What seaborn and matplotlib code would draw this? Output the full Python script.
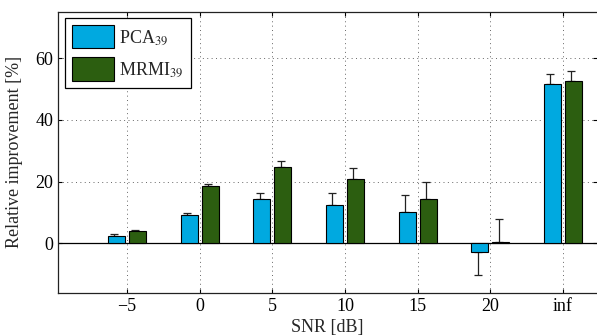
import numpy as np
import pandas as pd
import seaborn as sns
import matplotlib
matplotlib.use('Agg')
import matplotlib.pyplot as plt

# values
snr = ['\u22125', '0', '5', '10', '15', '20', 'inf']
pca = [2.5, 9.2, 14.3, 12.3, 10.1, -2.8, 51.6]
pca_err = [0.4, 0.7, 1.9, 3.9, 5.7, 7.5, 3.2]
mrmi = [4.0, 18.7, 24.6, 20.7, 14.5, 0.4, 52.5]
mrmi_err = [0.4, 0.7, 2.0, 3.6, 5.5, 7.4, 3.3]
methods = ['PCA$_{39}$', 'MRMI$_{39}$']
colors = ['#00A9E0', '#2C5E10']

sns.set_style('white')
plt.rcParams['font.family'] = ['Liberation Serif', 'DejaVu Serif']
plt.rcParams['mathtext.fontset'] = 'stix'

df = pd.DataFrame({
    'snr': snr * 2,
    'val': pca + mrmi,
    'method': [methods[0]] * len(snr) + [methods[1]] * len(snr),
})
errs = [pca_err, mrmi_err]

fig = plt.figure(figsize=(5.97, 3.36), dpi=100)
ax = fig.add_axes([58 / 597, 1 - 292.7 / 336, 1 - 58 / 597, (292.7 - 12) / 336])

sns.barplot(data=df, x='snr', y='val', hue='method', palette=colors,
            saturation=1, width=0.58, gap=0.19, edgecolor='black',
            linewidth=0.8, errorbar=None, ax=ax, zorder=3)

# one sided error bars, pointing away from zero
for cont, err in zip(ax.containers, errs):
    for bar, e in zip(cont, err):
        xc = bar.get_x() + bar.get_width() / 2
        v = bar.get_y() + bar.get_height()
        if bar.get_height() < 0 or bar.get_y() < 0:
            v = min(bar.get_y(), bar.get_y() + bar.get_height())
        low, up = (0, e) if v >= 0 else (e, 0)
        ax.errorbar(xc - 0.03, v, yerr=[[low], [up]], fmt='none', ecolor='#222222',
                    elinewidth=0.9, capsize=3, capthick=0.9, zorder=2)

ax.axhline(0, color='black', lw=0.9, zorder=2.5)

ax.set_xlim(-0.95, 6.47)
ax.set_ylim(-16, 75)
ax.set_yticks([0, 20, 40, 60])
ax.grid(True, linestyle=(0, (1, 3.5)), color='#666666', lw=0.7)
ax.set_axisbelow(True)

for s in ['left', 'top', 'bottom']:
    ax.spines[s].set_visible(True)
    ax.spines[s].set_color('#222222')
    ax.spines[s].set_linewidth(0.9)
ax.spines['right'].set_visible(False)
ax.tick_params(direction='in', length=3, width=0.8, labelsize=13,
               top=True, right=True, bottom=True, left=True, colors='black')

ax.set_xlabel('SNR [dB]', fontsize=13, labelpad=3)
ax.set_ylabel('Relative improvement [%]', fontsize=13, labelpad=9)

leg = ax.legend(loc='upper left', bbox_to_anchor=(0.013, 0.979), fontsize=13,
                fancybox=False, edgecolor='black', framealpha=1,
                handlelength=2.3, handleheight=1.6, borderpad=0.4,
                labelspacing=0.5, handletextpad=0.3, borderaxespad=0)
leg.get_frame().set_linewidth(0.9)

fig.savefig('out.png', dpi=100)
